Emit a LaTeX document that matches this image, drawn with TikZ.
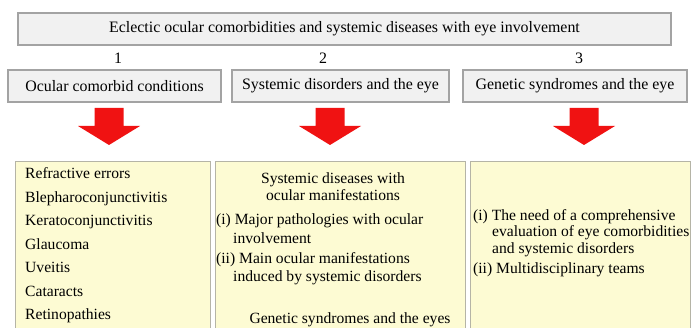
\documentclass[tikz,border=0pt]{standalone}
\usepackage{fontspec}
\setmainfont{Liberation Serif}
\definecolor{hdrfill}{HTML}{F1F1F1}
\definecolor{hdrline}{HTML}{A3A3A3}
\definecolor{yelfill}{HTML}{FDFBD3}
\definecolor{yelline}{HTML}{B5B4A6}
\definecolor{arrred}{HTML}{F01212}
\tikzset{
  hdr/.style={draw=hdrline, line width=1.1pt, fill=hdrfill, inner sep=0pt, font=\fontsize{15.9}{18}\selectfont},
  yel/.style={draw=yelline, line width=1.1pt, fill=yelfill, inner sep=0pt, anchor=north west, minimum height=180pt},
  txt/.style={inner sep=0pt, font=\fontsize{15.6}{17}\selectfont},
  num/.style={inner sep=0pt, font=\fontsize{15.9}{18}\selectfont},
  bigarrow/.style={fill=arrred, draw=none}
}
\begin{document}
\begin{tikzpicture}[x=1pt,y=-1pt]
\useasboundingbox (0,0) rectangle (692,328);
\clip (0,0) rectangle (692,328);
% title
\node[hdr, minimum width=653pt, minimum height=32pt] (title) at (344.5,29) {Eclectic ocular comorbidities and systemic diseases with eye involvement};
% numbers
\node[num] (n1) at (118,58) {1};
\node[num] (n2) at (323,58) {2};
\node[num] (n3) at (579,58) {3};
% headers
\node[hdr, minimum width=213pt, minimum height=32pt] (h1) at (114.5,86) {Ocular comorbid conditions};
\node[hdr, minimum width=217pt, minimum height=32pt] (h2) at (340.5,86) {Systemic disorders and the eye};
\node[hdr, minimum width=224pt, minimum height=32pt] (h3) at (575,86) {Genetic syndromes and the eye};
% arrows
\foreach \cx/\nm in {109/a1,330/a2,584/a3}{
  \fill[bigarrow] (\cx-14.5,108) -- (\cx+14.5,108) -- (\cx+14.5,126) -- (\cx+31,126) -- (\cx,145) -- (\cx-31,126) -- (\cx-14.5,126) -- cycle;
  \coordinate (\nm) at (\cx,145);
}
% bottom boxes
\node[yel, minimum width=195pt] (b1) at (15,161) {};
\node[yel, minimum width=250pt] (b2) at (215,161) {};
\node[yel, minimum width=220pt] (b3) at (470,161) {};
% box 1 text
\node[txt, anchor=west, align=left, font=\fontsize{15.6}{23.5}\selectfont] (t1) at (25,245.5)
 {Refractive errors\\Blepharoconjunctivitis\\Keratoconjunctivitis\\Glaucoma\\Uveitis\\Cataracts\\Retinopathies};
% box 2 text
\node[txt, align=center] (t2a) at (333,186.5) {Systemic diseases with\\ocular manifestations};
\node[txt, anchor=west, align=left, font=\fontsize{15.6}{18.5}\selectfont] (t2b) at (216,228.5) {(i) Major pathologies with ocular\\\hspace*{17pt}involvement};
\node[txt, anchor=west, align=left, font=\fontsize{15.6}{18.5}\selectfont] (t2c) at (216,268.5) {(ii) Main ocular manifestations\\\hspace*{17pt}induced by systemic disorders};
\node[txt] (t2d) at (350,319.5) {Genetic syndromes and the eyes};
% box 3 text
\node[txt, anchor=west, align=left, font=\fontsize{15.6}{16.5}\selectfont] (t3a) at (473,233) {(i) The need of a comprehensive\\\hspace*{19pt}evaluation of eye comorbidities\\\hspace*{19pt}and systemic disorders};
\node[txt, anchor=west] (t3b) at (473,269.5) {(ii) Multidisciplinary teams};
\end{tikzpicture}
\end{document}
